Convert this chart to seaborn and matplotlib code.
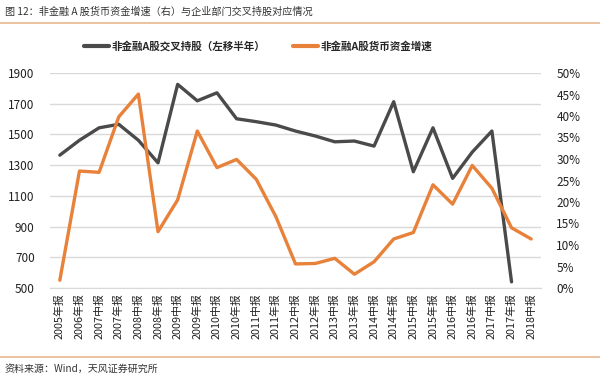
import numpy as np
import pandas as pd
import matplotlib
matplotlib.use("Agg")
import matplotlib.pyplot as plt
import seaborn as sns
from matplotlib.lines import Line2D
from matplotlib.ticker import FuncFormatter

categories = ["2005年报", "2006年报", "2007中报", "2007年报", "2008中报", "2008年报",
              "2009中报", "2009年报", "2010中报", "2010年报", "2011中报", "2011年报",
              "2012中报", "2012年报", "2013中报", "2013年报", "2014中报", "2014年报",
              "2015中报", "2015年报", "2016中报", "2016年报", "2017中报", "2017年报",
              "2018中报"]
cross_holding = [1365, 1462, 1543, 1566, 1462, 1315, 1826, 1719, 1771, 1602, 1583, 1561,
                 1522, 1490, 1452, 1457, 1424, 1713, 1257, 1543, 1214, 1385, 1522, 540,
                 np.nan]
cash_growth = [1.8, 27.2, 26.9, 39.8, 45.1, 13.1, 20.5, 36.5, 28.0, 29.9, 25.3, 16.6,
               5.6, 5.7, 6.9, 3.2, 6.1, 11.4, 12.9, 24.0, 19.5, 28.5, 23.2, 14.0, 11.4]
left_ticks = [500, 700, 900, 1100, 1300, 1500, 1700, 1900]
right_ticks = [0, 5, 10, 15, 20, 25, 30, 35, 40, 45, 50]
label_gray = "非金融A股交叉持股（左移半年）"
label_orange = "非金融A股货币资金增速"
title = "图 12：非金融 A 股货币资金增速（右）与企业部门交叉持股对应情况"
source = "资料来源：Wind，天风证券研究所"

sns.set_style("white")
plt.rcParams['font.family'] = ['Noto Sans CJK SC', 'DejaVu Sans']

GRAY = "#4a4a4a"
ORANGE = "#E8813A"
TXT = "#222222"

df = pd.DataFrame({"pos": np.arange(len(categories)), "cat": categories,
                   "hold": cross_holding, "cash": np.array(cash_growth) / 100})

fig = plt.figure(figsize=(6.0, 3.79), dpi=100)
ax = fig.add_axes([50/600, 1-288/379, (541-50)/600, (288-73)/379])
ax2 = ax.twinx()

sns.lineplot(data=df, x="pos", y="hold", ax=ax, color=GRAY, linewidth=2.4)
sns.lineplot(data=df, x="pos", y="cash", ax=ax2, color=ORANGE, linewidth=2.4)

ax.set_xlim(-0.5, len(categories) - 0.5)
ax.set_ylim(500, 1900)
ax2.set_ylim(0, 0.5)
ax.set_yticks(left_ticks)
ax2.set_yticks([t / 100 for t in right_ticks])
ax2.yaxis.set_major_formatter(FuncFormatter(lambda v, p: f"{v*100:.0f}%"))
ax.set_xticks(df["pos"])
ax.set_xticklabels(categories, rotation=90, fontsize=7.8, color=TXT)
ax.tick_params(axis="x", length=0, pad=4)
ax.tick_params(axis="y", length=0, labelsize=8.5, labelcolor=TXT, pad=11)
ax2.tick_params(axis="y", length=0, labelsize=8.5, labelcolor=TXT, pad=11)
ax.set_xlabel("")
ax.set_ylabel("")
ax2.set_ylabel("")
ax.grid(axis="y", color="#d9d9d9", linewidth=1.0)
ax.set_axisbelow(True)
for a in (ax, ax2):
    for s in a.spines.values():
        s.set_visible(False)
ax.spines["bottom"].set_visible(True)
ax.spines["bottom"].set_color("#d9d9d9")

handles = [Line2D([], [], color=GRAY, linewidth=3),
           Line2D([], [], color=ORANGE, linewidth=3)]
fig.legend(handles, [label_gray, label_orange], loc="center", bbox_to_anchor=(258/600, 1-46/379),
           ncol=2, frameon=False, prop={"weight": "bold", "size": 7.6}, handlelength=2.4,
           handletextpad=0.2, columnspacing=2.6)

fig.text(5/600, 1-12/379, title, fontsize=7.3, color="#333333", ha="left", va="center")
fig.add_artist(Line2D([0, 1], [1-23/379, 1-23/379], transform=fig.transFigure,
                      color="#E9B88E", linewidth=1.2))
fig.add_artist(Line2D([0, 1], [1-357/379, 1-357/379], transform=fig.transFigure,
                      color="#E9B88E", linewidth=1.2))
fig.text(5/600, 1-369/379, source, fontsize=7.2, color="#333333", ha="left", va="center")

fig.savefig("out.png", dpi=100)
